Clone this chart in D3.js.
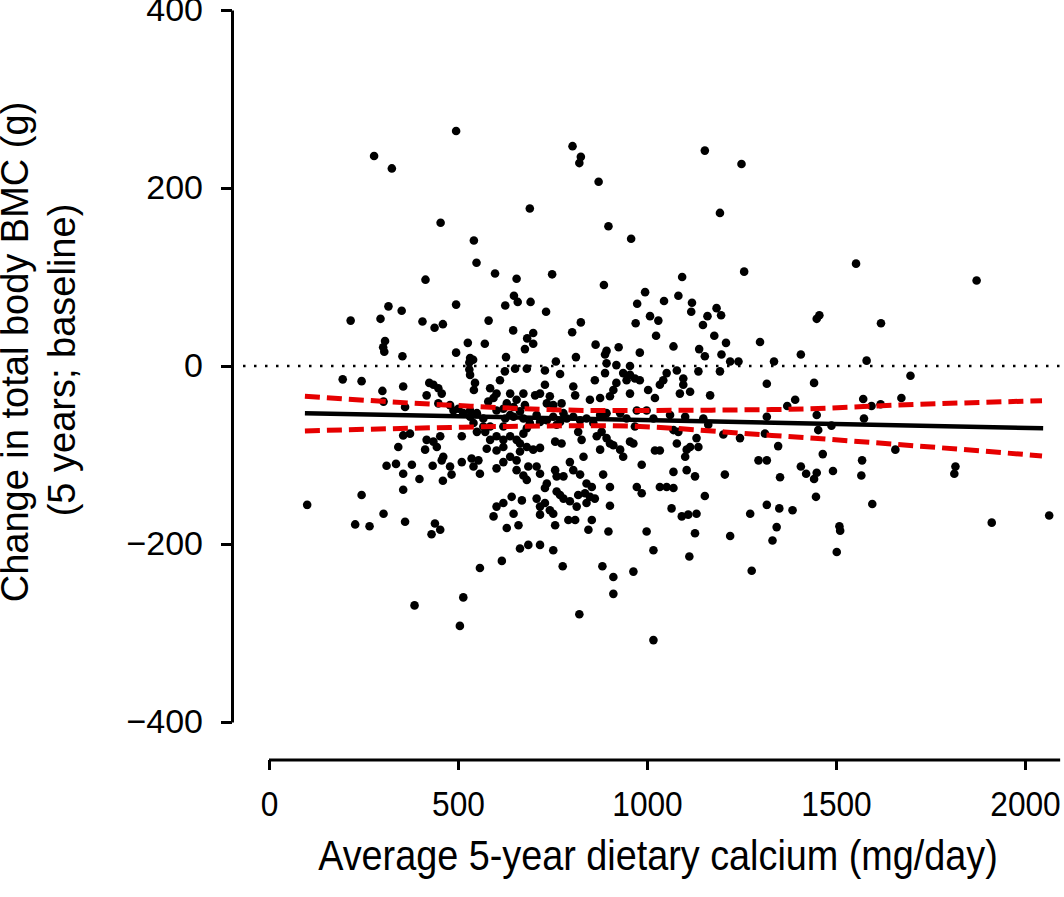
<!DOCTYPE html>
<html>
<head>
<meta charset="utf-8">
<script src="https://cdn.jsdelivr.net/npm/d3@7"></script>
<style>
  body { margin: 0; background: #fff; }
  svg { display: block; }
  text { font-family: "Liberation Sans", Arial, sans-serif; fill: #000; }
</style>
</head>
<body>
<svg id="chart" width="1064" height="897"></svg>
<script>
// dietary calcium (mg/day) vs 5-year change in total body BMC (g)
const samples = [
  [495,264],[278,236],[325,222],[454,161],[542,141],[549,116],[598,104],[655,98],[414,97],[648,79],
  [658,72],[625,68],[495,69],[316,67],[351,62],[216,51],[295,53],[406,50],[438,43],[460,47],
  [581,51],[646,40],[307,28],[302,21],[305,16],[526,26],[571,25],[495,15],[353,11],[532,9],
  [540,7],[627,10],[530,4],
  [195,-15],[245,-17],[355,-23],[300,-28],[424,-19],[435,-21],[448,-25],[457,-31],[417,-33],[303,-40],
  [360,-46],[448,-42],[479,-44],[501,-48],[514,-53],[530,-4],[532,-10],[545,-19],[542,-27],[585,-25],
  [602,-31],[594,-36],[580,-40],[624,-6],[651,-3],[682,-3],[611,-16],[638,-31],[655,-38],[673,-31],
  [629,-42],[647,-46],[664,-51],[638,-55],[625,-59],[532,-57],[541,-64],[550,-74],[572,-74],[585,-68],
  [602,-79],[620,-83],[638,-79],[655,-83],[673,-76],[355,-78],[373,-76],[342,-91],[417,-83],[435,-85],
  [453,-79],[413,-94],[444,-91],[311,-112],[336,-110],[355,-121],[378,-111],[398,-127],[433,-112],[457,-106],
  [461,-102],[479,-113],[483,-122],[460,-129],[510,-108],[536,-104],[554,-106],[558,-121],[541,-113],[602,-115],
  [620,-108],[655,-117],[673,-123],[682,-128],[245,-145],[355,-139],[101,-156],[228,-178],[266,-180],[303,-166],
  [360,-175],[439,-177],[453,-184],[430,-189],[602,-158],[594,-169],[620,-154],[642,-147],[669,-151],[647,-166],
  [629,-182],[660,-179],[664,-205],[686,-201],[616,-219],[558,-227],[514,-260],[385,-269],[505,-292],[510,-79],
  [576,-93],[602,-95],[620,-91],[664,-96],[655,-106],[638,-102],[488,-50],[532,-50],[550,-53],[567,-59],
  [602,-50],[620,-48],[647,-57],[673,-59],[567,-68],[620,-68],[585,-83],
  [803,247],[825,235],[821,228],[872,207],[690,177],[898,157],[958,143],[1153,242],[1250,227],[1193,172],
  [749,103],[886,91],[1093,100],[1257,106],[692,72],[733,61],[825,49],[802,38],[683,31],[699,37],
  [699,25],[677,19],[995,83],[974,70],[1045,73],[1083,79],[1119,71],[1117,61],[1184,65],[1196,57],
  [1160,56],[1148,46],[1008,56],[1030,51],[970,48],[1024,34],[1178,34],[1209,26],[1299,27],[864,24],
  [893,17],[889,13],[925,21],[981,15],[1070,22],[1138,19],[1153,11],[1197,13],[812,10],
  [1553,115],[1872,96],[1456,57],[1449,53],[1619,48],[1407,13],
  [759,5],[730,-5],[770,-9],[893,3],[919,1],[955,0],[862,-16],[889,-8],[937,-8],[955,-10],
  [968,-14],[981,-16],[946,-16],[1052,-8],[1043,-16],[1034,-21],[1079,-5],[1096,-14],[1096,-21],[1136,-6],
  [1193,-6],[1220,5],[1242,5],[1317,-20],[730,-21],[717,-31],[704,-33],[743,-34],[735,-42],[752,-44],
  [805,-23],[810,-33],[849,-38],[876,-36],[902,-34],[911,-27],[919,-19],[955,-31],[1003,-27],[1021,-36],
  [1087,-31],[1114,-29],[1167,-33],[677,-44],[774,-42],
  [708,-55],[735,-61],[752,-57],[770,-63],[788,-59],[805,-57],[823,-61],[840,-59],[858,-64],[893,-53],
  [929,-53],[946,-59],[973,-50],[999,-50],[1017,-59],[1061,-55],[1101,-57],[1149,-59],[1162,-66],[1317,-57],
  [682,-70],[761,-66],[717,-63],[690,-64],[779,-53],[876,-55],[1070,-72],[1083,-74],[1131,-81],[968,-68],
  [664,-87],[682,-91],[699,-94],[717,-92],[686,-113],[708,-113],[717,-121],[735,-132],[730,-137],[757,-117],
  [761,-124],[779,-124],[796,-108],[805,-117],[823,-122],[832,-102],[840,-132],[854,-136],[757,-85],[774,-87],
  [818,-74],[827,-83],[867,-79],[880,-74],[893,-81],[902,-87],[911,-89],[929,-94],[937,-102],[955,-85],
  [876,-94],[964,-87],[986,-111],[1021,-95],[1034,-95],[1070,-119],[1079,-87],[1105,-94],[1101,-102],[1114,-91],
  [1136,-91],[1105,-117],[1127,-124],[1202,-77],[1246,-81],[1312,-76],[1295,-106],[1317,-106],[1206,-122],[884,-122],
  [902,-136],[973,-136],[986,-143],[1034,-136],[1052,-136],[1070,-137],[1153,-146],[708,-149],[717,-158],[730,-154],
  [743,-162],[761,-141],[770,-145],[779,-149],[796,-152],[814,-158],[818,-145],[836,-143],[840,-154],[849,-147],
  [862,-149],[902,-157],[1065,-160],[1092,-169],[1109,-167],[1131,-166],[1273,-166],[1317,-156],[717,-167],[752,-166],
  [757,-179],[792,-173],[810,-173],[854,-173],[845,-184],[898,-186],[999,-186],[1127,-188],[1220,-191],[717,-201],
  [752,-207],[1017,-207],[1112,-214],[777,-225],[882,-225],[911,-237],[964,-231],[1277,-230],[911,-256],[821,-279],
  [1017,-308],
  [1336,5],[1581,6],[1697,-11],[1442,-19],[1371,-45],[1392,-38],[1572,-37],[1594,-45],[1618,-43],[1673,-36],
  [1449,-55],[1453,-72],[1574,-59],[1488,-67],[1347,-90],[1465,-99],[1657,-94],[1407,-113],[1421,-121],[1449,-120],
  [1442,-127],[1492,-118],[1569,-106],[1567,-123],[1352,-125],[1816,-113],[1813,-121],[1447,-147],[1350,-160],[1385,-162],
  [1596,-155],[1343,-181],[1332,-196],[1509,-180],[1511,-185],[1502,-209],[1912,-176],[2064,-168]
];

// regression line and 95% confidence band
const fitX = [95, 2048];
const fitY = [-53, -70];
const bandX = [95, 480, 880, 1330, 1720, 2045];
const bandUpper = [-34, -44, -50, -49, -43, -39];
const bandLower = [-73, -69, -67, -78, -90, -101];

const xTicks = [0, 500, 1000, 1500, 2000];
const yTicks = [-400, -200, 0, 200, 400];
const xAxisEnd = 2093;

const svg = d3.select("#chart");

const x = d3.scaleLinear().domain([0, 2000]).range([269, 1025]);
const y = d3.scaleLinear().domain([-400, 400]).range([722, 10]);
const yAxisX = 232, xAxisY = 760;

// y axis
const gy = svg.append("g")
    .attr("transform", `translate(${yAxisX},0)`)
    .call(d3.axisLeft(y).tickValues(yTicks).tickSize(11).tickSizeOuter(0).tickPadding(18)
        .tickFormat(d => d < 0 ? "\u2212" + Math.abs(d) : d));
gy.select(".domain").attr("stroke-width", 3);
gy.selectAll(".tick line").attr("stroke-width", 3);
gy.selectAll(".tick text").attr("font-size", 34).attr("font-family", null);

// x axis
const gx = svg.append("g")
    .attr("transform", `translate(0,${xAxisY})`)
    .call(d3.axisBottom(x).tickValues(xTicks).tickSize(10).tickSizeOuter(0).tickPadding(20)
        .tickFormat(d3.format("d")));
gx.select(".domain").remove();
gx.append("line")
    .attr("x1", x(0)).attr("x2", x(xAxisEnd))
    .attr("stroke", "#000").attr("stroke-width", 3);
gx.selectAll(".tick line").attr("stroke-width", 3);
gx.selectAll(".tick text")
    .attr("font-size", 36).attr("font-family", null)
    .attr("transform", "scale(0.88,1)");

// zero reference
svg.append("line")
    .attr("x1", yAxisX + 11).attr("x2", x(xAxisEnd))
    .attr("y1", y(0)).attr("y2", y(0))
    .attr("stroke", "#000").attr("stroke-width", 2.5)
    .attr("stroke-dasharray", "2.5,8.5");

// points
svg.append("g").selectAll("circle")
    .data(samples)
    .join("circle")
    .attr("cx", d => x(d[0]))
    .attr("cy", d => y(d[1]))
    .attr("r", 4.3)
    .attr("fill", "#000");

// fitted line
const line = d3.line().x(d => x(d[0])).y(d => y(d[1]));
svg.append("path")
    .datum(d3.zip(fitX, fitY))
    .attr("d", line)
    .attr("fill", "none").attr("stroke", "#000").attr("stroke-width", 4.5);

const bandLine = d3.line().x(d => x(d[0])).y(d => y(d[1])).curve(d3.curveMonotoneX);
[bandUpper, bandLower].forEach(vals => {
    svg.append("path")
        .datum(d3.zip(bandX, vals))
        .attr("d", bandLine)
        .attr("fill", "none").attr("stroke", "#e60000").attr("stroke-width", 5)
        .attr("stroke-dasharray", "15,7");
});

// axis titles
svg.append("g")
    .attr("transform", "translate(658,870) scale(0.9,1)")
    .append("text")
    .attr("text-anchor", "middle")
    .attr("font-size", 42)
    .text("Average 5-year dietary calcium (mg/day)");

svg.append("g")
    .attr("transform", "translate(28,352) rotate(-90)")
    .append("text")
    .attr("text-anchor", "middle")
    .attr("font-size", 38)
    .text("Change in total body BMC (g)");

svg.append("g")
    .attr("transform", "translate(75,360) rotate(-90)")
    .append("text")
    .attr("text-anchor", "middle")
    .attr("font-size", 38)
    .text("(5 years; baseline)");
</script>
</body>
</html>
